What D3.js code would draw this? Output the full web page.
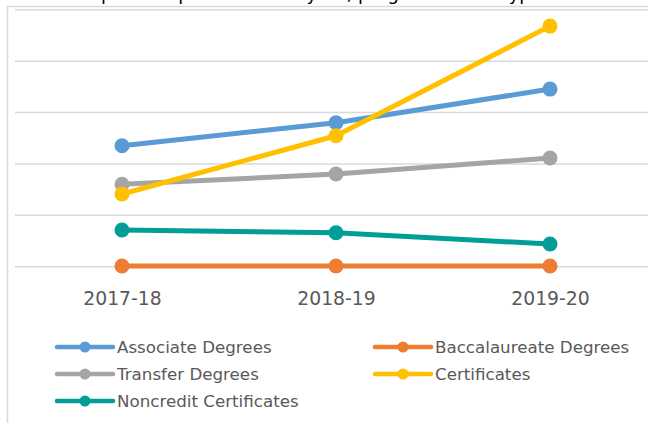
<!DOCTYPE html>
<html>
<head>
<meta charset="utf-8">
<script src="https://cdn.jsdelivr.net/npm/d3@7"></script>
<style>
  html, body { margin: 0; padding: 0; background: #fff; overflow: hidden; }
  svg { display: block; }
  text { font-family: "DejaVu Sans", sans-serif; fill: #595959; }
</style>
</head>
<body>
<svg id="chart" width="648" height="423"></svg>
<script>
// ---- data ----
const years = ["2017-18", "2018-19", "2019-20"];
const seriesNames = ["Associate Degrees", "Baccalaureate Degrees", "Transfer Degrees", "Certificates", "Noncredit Certificates"];
const associate = [2344, 2792, 3447];
const baccalaureate = [5, 5, 5];
const transfer = [1593, 1794, 2105];
const certificates = [1405, 2539, 4673];
const noncredit = [704, 652, 432];
const yTicks = [0, 1000, 2000, 3000, 4000, 5000];
const colors = ["#5B9BD5", "#ED7D31", "#A5A5A5", "#FFC000", "#009E97"];
const titleText = "Completions per academic year, program award type";

const seriesValues = [associate, baccalaureate, transfer, certificates, noncredit];
const series = seriesNames.map((name, i) => ({ name, color: colors[i], values: seriesValues[i] }));

const svg = d3.select("#chart");

// title (cut off by the top of the picture, as in the reference)
svg.append("text")
  .attr("x", 60).attr("y", 0)
  .style("font-size", "18px").style("fill", "#000")
  .text(titleText);

// chart frame
svg.append("path")
  .attr("d", "M7.5,440 V6.5 H660")
  .attr("fill", "none").attr("stroke", "#D9D9D9").attr("stroke-width", 1.5);

const x = d3.scalePoint().domain(years).range([15, 657]).padding(0.5);
const y = d3.scaleLinear().domain([0, 5000]).range([266.2, 9.3]);

// gridlines
const grid = svg.append("g").attr("class", "grid")
  .call(d3.axisLeft(y).tickValues(yTicks).tickSize(-(657 - 15)).tickFormat(""))
  .attr("transform", "translate(15,0)");
grid.select(".domain").remove();
grid.selectAll("line").attr("stroke", "#D9D9D9").attr("stroke-width", 1.6);

// x axis labels
const xAxis = svg.append("g").attr("transform", "translate(0,283)")
  .call(d3.axisBottom(x).tickSize(0).tickPadding(0));
xAxis.select(".domain").remove();
xAxis.selectAll("text")
  .attr("dy", 0).attr("y", 22)
  .style("font-size", "18.8px").style("fill", "#595959")
  .style("font-family", "'DejaVu Sans', sans-serif");

// lines
const line = d3.line().x((d, i) => x(years[i])).y(d => y(d));
const sg = svg.selectAll("g.series").data(series).enter().append("g").attr("class", "series");
sg.append("path")
  .attr("d", d => line(d.values))
  .attr("fill", "none").attr("stroke", d => d.color)
  .attr("stroke-width", 5).attr("stroke-linejoin", "round").attr("stroke-linecap", "round");
sg.selectAll("circle").data(d => d.values.map((v, i) => ({ v, i, color: d.color }))).enter()
  .append("circle")
  .attr("cx", d => x(years[d.i])).attr("cy", d => y(d.v)).attr("r", 7.5)
  .attr("fill", d => d.color);

// legend
const legendPos = [
  { x: 57, y: 347 }, { x: 375, y: 347 },
  { x: 57, y: 374 }, { x: 375, y: 374 },
  { x: 57, y: 401 }
];
const lg = svg.selectAll("g.legend").data(series).enter().append("g")
  .attr("class", "legend")
  .attr("transform", (d, i) => `translate(${legendPos[i].x},${legendPos[i].y})`);
lg.append("line").attr("x1", 0).attr("x2", 56).attr("y1", 0).attr("y2", 0)
  .attr("stroke", d => d.color).attr("stroke-width", 4.5).attr("stroke-linecap", "round");
lg.append("circle").attr("cx", 28).attr("cy", 0).attr("r", 5.5).attr("fill", d => d.color);
lg.append("text").attr("x", 60).attr("y", 6)
  .style("font-size", "16.7px")
  .text(d => d.name);
</script>
</body>
</html>
